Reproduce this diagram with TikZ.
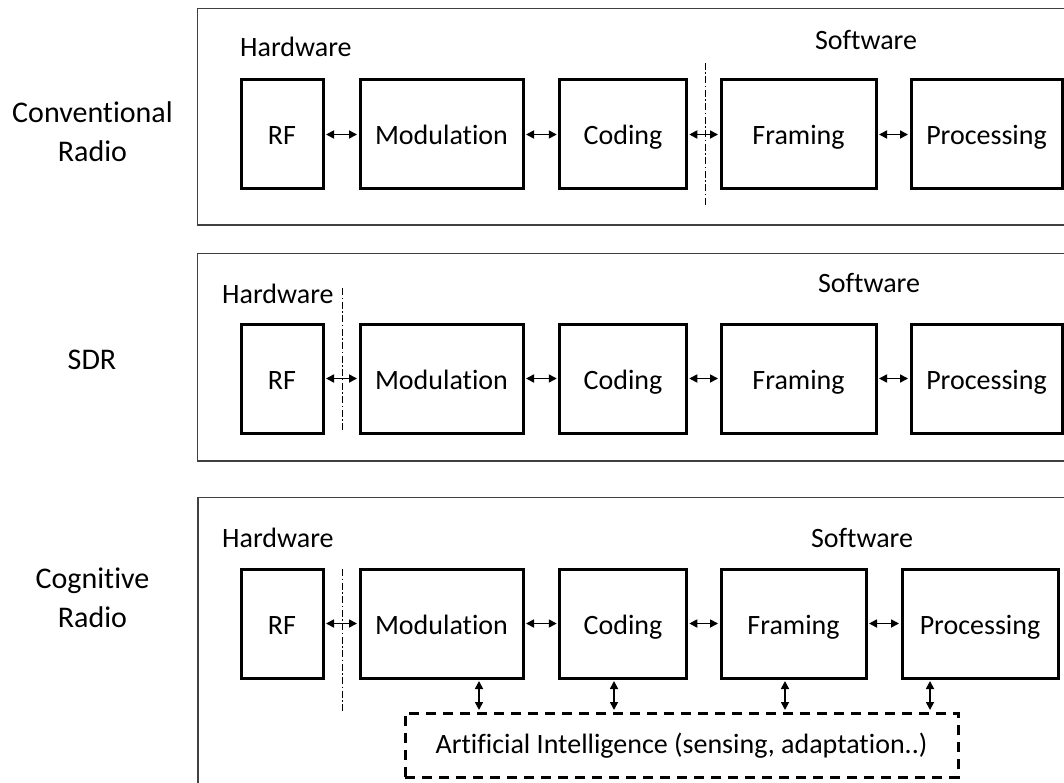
\documentclass[tikz,border=0pt]{standalone}
\usepackage{fontspec}
\setmainfont{Carlito}[Ligatures=NoCommon]
\usetikzlibrary{arrows.meta,calc}
\begin{document}
\begin{tikzpicture}[x=1pt,y=-1pt,
  blk/.style={draw, line width=3pt, minimum height=109pt, inner sep=0pt,
    text height=26pt, text depth=5pt, font=\fontsize{28}{32}\selectfont},
  panel/.style={draw=black!75, line width=1.3pt},
  lbl/.style={font=\fontsize{28}{32}\selectfont, inner sep=0pt},
  side/.style={font=\fontsize{30}{39}\selectfont, align=center, inner sep=0pt},
  arr/.style={{Triangle[length=8pt,width=8pt]}-{Triangle[length=8pt,width=8pt]}, line width=1.7pt,
    shorten <=1.5pt, shorten >=1.5pt},
  split/.style={line width=1pt, dash pattern=on 7pt off 2.5pt on 1.5pt off 2.5pt},
  aibox/.style={draw, line width=3pt, dash pattern=on 10pt off 7pt, inner sep=0pt,
    text height=22pt, text depth=6pt, font=\fontsize{28}{32}\selectfont}
]
\useasboundingbox (0,0) rectangle (1064,783);

% ---------- Panel 1: Conventional Radio ----------
\draw[panel] (197.5,8.5) rectangle (1090,225);
\node[side] (lab1) at (92.5,131.5) {Conventional\\Radio};
\node[lbl, anchor=base west] (hw1) at (240,57) {Hardware};
\node[lbl, anchor=base] (sw1) at (866,50) {Software};
\node[blk, minimum width=82pt]  (rf1)  at (282,134.5) {RF};
\node[blk, minimum width=163pt] (mod1) at (441.5,134.5) {Modulation};
\node[blk, minimum width=126.5pt] (cod1) at (623,134.5) {Coding};
\node[blk, minimum width=155pt] (fr1)  at (798.5,134.5) {Framing};
\node[blk, minimum width=151pt] (pr1)  at (986.5,134.5) {Processing};
\draw[split] (705,63) -- (705,205);
\draw[arr] (rf1.east) -- (mod1.west);
\draw[arr] (mod1.east) -- (cod1.west);
\draw[arr] (cod1.east) -- (fr1.west);
\draw[arr] (fr1.east) -- (pr1.west);

% ---------- Panel 2: SDR ----------
\draw[panel] (197.5,253.5) rectangle (1090,461);
\node[lbl, anchor=base] (lab2) at (92,369) {\fontsize{30}{39}\selectfont SDR};
\node[lbl, anchor=base west] (hw2) at (222,303) {Hardware};
\node[lbl, anchor=base] (sw2) at (869,293) {Software};
\node[blk, minimum width=82pt]  (rf2)  at (282,378.5) {RF};
\node[blk, minimum width=163pt] (mod2) at (441.5,378.5) {Modulation};
\node[blk, minimum width=126.5pt] (cod2) at (623,378.5) {Coding};
\node[blk, minimum width=155pt] (fr2)  at (798.5,378.5) {Framing};
\node[blk, minimum width=151pt] (pr2)  at (986.5,378.5) {Processing};
\draw[split] (342,288) -- (342,432);
\draw[arr] (rf2.east) -- (mod2.west);
\draw[arr] (mod2.east) -- (cod2.west);
\draw[arr] (cod2.east) -- (fr2.west);
\draw[arr] (fr2.east) -- (pr2.west);

% ---------- Panel 3: Cognitive Radio ----------
\draw[panel] (198,497.5) rectangle (1090,800);
\node[side] (lab3) at (92.5,598) {Cognitive\\Radio};
\node[lbl, anchor=base west] (hw3) at (222,547) {Hardware};
\node[lbl, anchor=base] (sw3) at (862,547) {Software};
\node[blk, minimum width=82pt]  (rf3)  at (282,623.5) {RF};
\node[blk, minimum width=163pt] (mod3) at (441.5,623.5) {Modulation};
\node[blk, minimum width=126.5pt] (cod3) at (623,623.5) {Coding};
\node[blk, minimum width=145pt] (fr3)  at (793.5,623.5) {Framing};
\node[blk, minimum width=156pt] (pr3)  at (980,623.5) {Processing};
\draw[split] (342,569) -- (342,712);
\draw[arr] (rf3.east) -- (mod3.west);
\draw[arr] (mod3.east) -- (cod3.west);
\draw[arr] (cod3.east) -- (fr3.west);
\draw[arr] (fr3.east) -- (pr3.west);

\node[aibox, minimum width=553pt, minimum height=64pt] (ai) at (681.5,745)
  {Artificial Intelligence (sensing, adaptation..)};
\draw[arr] ([xshift=37.5pt]mod3.south) -- ([xshift=37.5pt]mod3.south |- ai.north);
\draw[arr] ([xshift=-9pt]cod3.south) -- ([xshift=-9pt]cod3.south |- ai.north);
\draw[arr] ([xshift=-8.5pt]fr3.south) -- ([xshift=-8.5pt]fr3.south |- ai.north);
\draw[arr] ([xshift=-50pt]pr3.south) -- ([xshift=-50pt]pr3.south |- ai.north);
\end{tikzpicture}
\end{document}
